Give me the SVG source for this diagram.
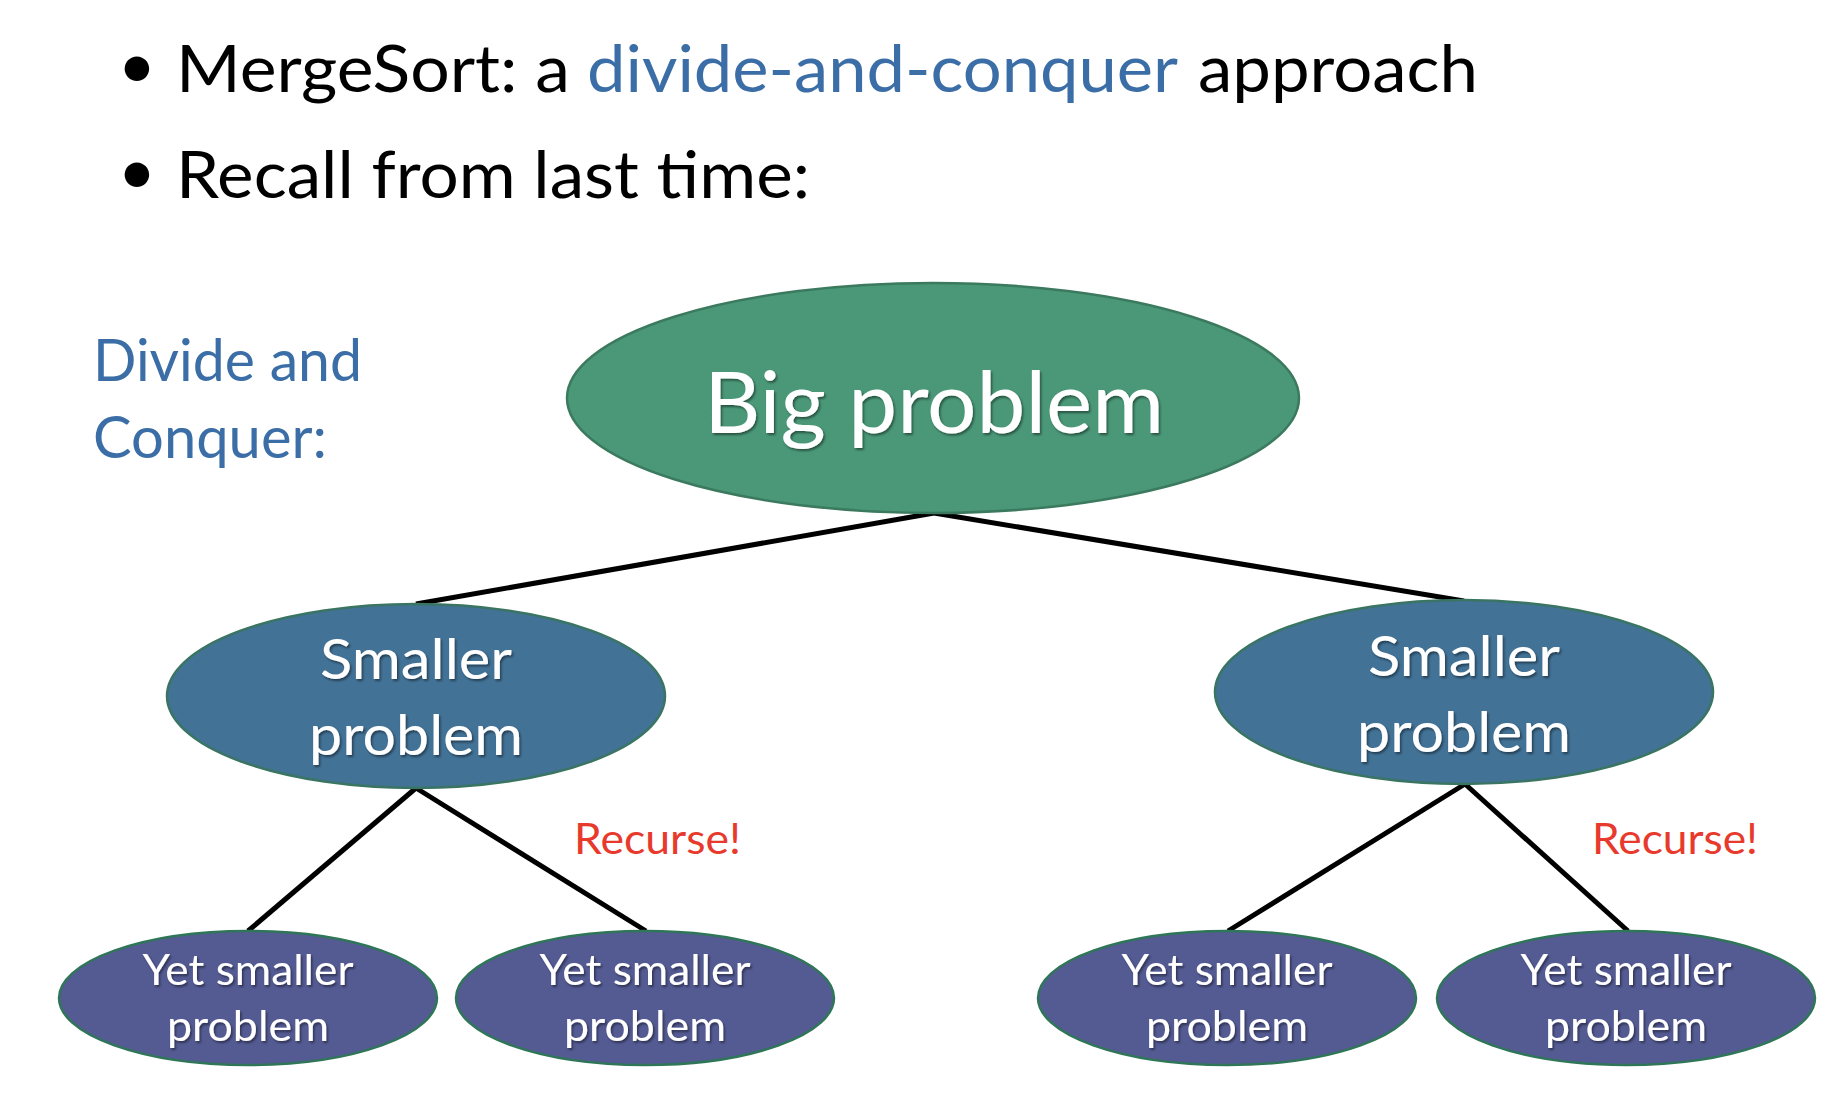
<svg xmlns="http://www.w3.org/2000/svg" width="1848" height="1100" viewBox="0 0 1848 1100">
<style>
  text { font-family: Lato, "Open Sans", "Liberation Sans", sans-serif; }
  .bul { fill: #000000; font-size: 66px; }
  .dot { fill: #000000; font-size: 66px; text-anchor: middle; }
  .blue { fill: #3B6EA6; }
  .node-text { fill: #FFFFFF; text-anchor: middle; filter: url(#sh); }
  .big { fill: #4A9878; stroke: #3B7A5E; stroke-width: 2.5; }
  .mid { fill: #427296; stroke: #3A7462; stroke-width: 2.5; }
  .low { fill: #545B93; stroke: #2F7658; stroke-width: 2.5; }
  .edge { stroke: #000000; stroke-width: 5; stroke-linecap: butt; fill: none; }
  .red { fill: #E83A2C; font-size: 43px; }
</style>
<defs>
  <filter id="sh" x="-10%" y="-20%" width="120%" height="140%">
    <feDropShadow dx="1.5" dy="2" stdDeviation="1.2" flood-color="#000000" flood-opacity="0.45"/>
  </filter>
</defs>
<rect x="0" y="0" width="1848" height="1100" fill="#FFFFFF"/>

<g id="header">
  <text class="dot" x="137" y="88">•</text>
  <text class="bul" x="176" y="92" textLength="394" lengthAdjust="spacingAndGlyphs">MergeSort: a</text>
  <text class="bul blue" x="587" y="92" textLength="591" lengthAdjust="spacingAndGlyphs">divide-and-conquer</text>
  <text class="bul" x="1198" y="92" textLength="280" lengthAdjust="spacingAndGlyphs">approach</text>
  <text class="dot" x="137" y="194">•</text>
  <text class="bul" x="176" y="198" textLength="634" lengthAdjust="spacingAndGlyphs">Recall from last time:</text>
</g>

<g id="title-dc">
  <text class="blue" x="93" y="381" style="font-size:58px" textLength="269" lengthAdjust="spacingAndGlyphs">Divide and</text>
  <text class="blue" x="93" y="458" style="font-size:58px" textLength="234" lengthAdjust="spacingAndGlyphs">Conquer:</text>
</g>

<g id="connectors">
  <line class="edge" x1="934" y1="513" x2="416" y2="604"/>
  <line class="edge" x1="934" y1="513" x2="1464" y2="601"/>
  <line class="edge" x1="416" y1="788" x2="248" y2="931"/>
  <line class="edge" x1="416" y1="788" x2="646" y2="931"/>
  <line class="edge" x1="1465" y1="784" x2="1228" y2="931"/>
  <line class="edge" x1="1465" y1="784" x2="1628" y2="931"/>
</g>

<g id="big-problem">
  <ellipse class="big" cx="933" cy="398" rx="366" ry="115"/>
  <text class="node-text" x="934" y="433" style="font-size:85px" textLength="460" lengthAdjust="spacingAndGlyphs">Big problem</text>
</g>

<g id="smaller-left">
  <ellipse class="mid" cx="416" cy="696" rx="249" ry="92"/>
  <text class="node-text" x="416" y="679" style="font-size:57px" textLength="192" lengthAdjust="spacingAndGlyphs">Smaller</text>
  <text class="node-text" x="416" y="755" style="font-size:57px" textLength="214" lengthAdjust="spacingAndGlyphs">problem</text>
</g>

<g id="smaller-right">
  <ellipse class="mid" cx="1464" cy="692" rx="249" ry="92"/>
  <text class="node-text" x="1464" y="676" style="font-size:57px" textLength="192" lengthAdjust="spacingAndGlyphs">Smaller</text>
  <text class="node-text" x="1464" y="752" style="font-size:57px" textLength="214" lengthAdjust="spacingAndGlyphs">problem</text>
</g>

<g id="yet-1">
  <ellipse class="low" cx="248" cy="998" rx="189" ry="67"/>
  <text class="node-text" x="248" y="985" style="font-size:43px" textLength="211" lengthAdjust="spacingAndGlyphs">Yet smaller</text>
  <text class="node-text" x="248" y="1041" style="font-size:43px" textLength="162" lengthAdjust="spacingAndGlyphs">problem</text>
</g>
<g id="yet-2">
  <ellipse class="low" cx="645" cy="998" rx="189" ry="67"/>
  <text class="node-text" x="645" y="985" style="font-size:43px" textLength="211" lengthAdjust="spacingAndGlyphs">Yet smaller</text>
  <text class="node-text" x="645" y="1041" style="font-size:43px" textLength="162" lengthAdjust="spacingAndGlyphs">problem</text>
</g>
<g id="yet-3">
  <ellipse class="low" cx="1227" cy="998" rx="189" ry="67"/>
  <text class="node-text" x="1227" y="985" style="font-size:43px" textLength="211" lengthAdjust="spacingAndGlyphs">Yet smaller</text>
  <text class="node-text" x="1227" y="1041" style="font-size:43px" textLength="162" lengthAdjust="spacingAndGlyphs">problem</text>
</g>
<g id="yet-4">
  <ellipse class="low" cx="1626" cy="998" rx="189" ry="67"/>
  <text class="node-text" x="1626" y="985" style="font-size:43px" textLength="211" lengthAdjust="spacingAndGlyphs">Yet smaller</text>
  <text class="node-text" x="1626" y="1041" style="font-size:43px" textLength="162" lengthAdjust="spacingAndGlyphs">problem</text>
</g>

<g id="recurse-labels">
  <text class="red" x="574" y="854" textLength="167" lengthAdjust="spacingAndGlyphs">Recurse!</text>
  <text class="red" x="1592" y="854" textLength="166" lengthAdjust="spacingAndGlyphs">Recurse!</text>
</g>
</svg>
